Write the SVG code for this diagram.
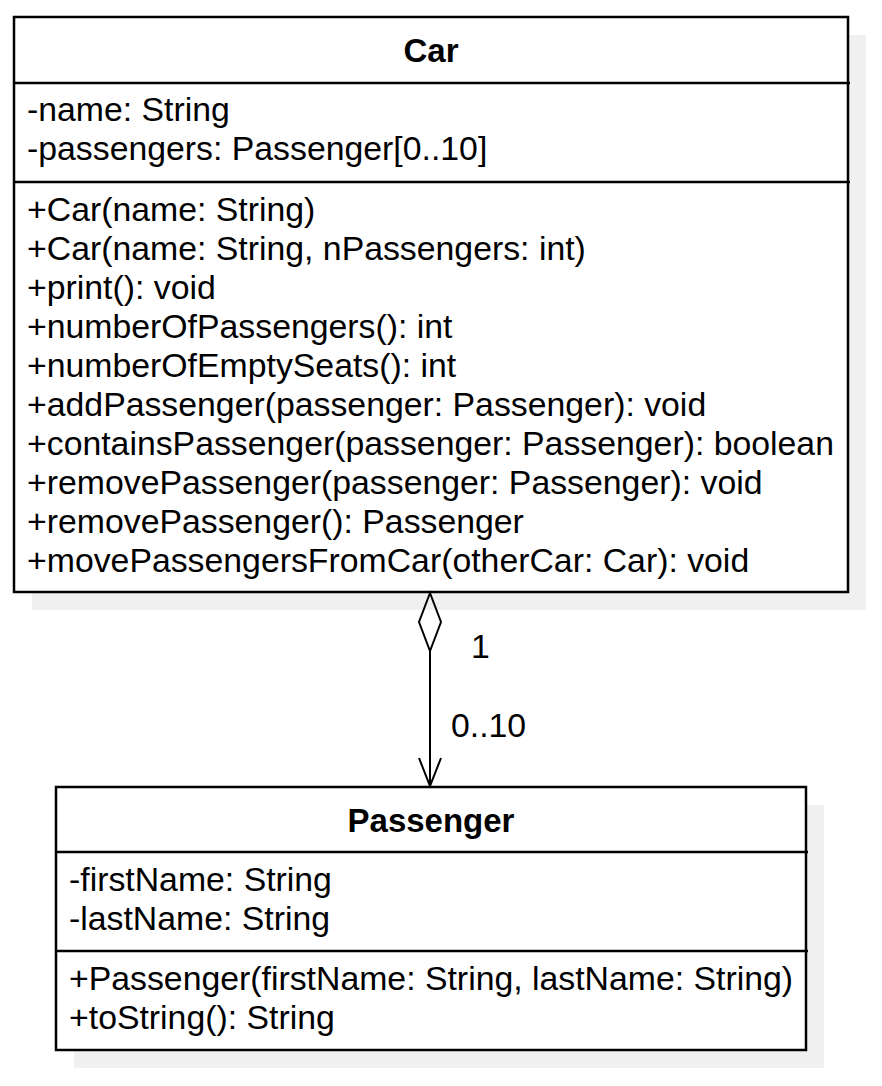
<svg xmlns="http://www.w3.org/2000/svg" width="882" height="1086" viewBox="0 0 882 1086">
<style>
.shadow{fill:#f0f0f0;stroke:none}
.box{fill:#ffffff;stroke:#000000;stroke-width:2.5}
.sep{stroke:#000000;stroke-width:2.5;fill:none}
text{font-family:"Liberation Sans",Arial,sans-serif;font-size:33.8px;fill:#000000}
.title{font-weight:bold;text-anchor:middle;font-size:33px}
.conn{stroke:#000000;stroke-width:2;fill:none}
</style>
<rect x="0" y="0" width="882" height="1086" fill="#ffffff"/>
<g id="car">
<rect class="shadow" x="32" y="35" width="834" height="575"/>
<rect class="box" x="14" y="17" width="834" height="575"/>
<line class="sep" x1="14" y1="83" x2="850" y2="83"/>
<line class="sep" x1="14" y1="182" x2="850" y2="182"/>
<text class="title" x="431" y="62">Car</text>
<text x="27" y="121">-name: String</text>
<text x="27" y="160">-passengers: Passenger[0..10]</text>
<text x="27" y="221">+Car(name: String)</text>
<text x="27" y="260">+Car(name: String, nPassengers: int)</text>
<text x="27" y="299">+print(): void</text>
<text x="27" y="338">+numberOfPassengers(): int</text>
<text x="27" y="377">+numberOfEmptySeats(): int</text>
<text x="27" y="416">+addPassenger(passenger: Passenger): void</text>
<text x="27" y="455">+containsPassenger(passenger: Passenger): boolean</text>
<text x="27" y="494">+removePassenger(passenger: Passenger): void</text>
<text x="27" y="533">+removePassenger(): Passenger</text>
<text x="27" y="572">+movePassengersFromCar(otherCar: Car): void</text>
</g>
<g id="passenger">
<rect class="shadow" x="74" y="805" width="750" height="263"/>
<rect class="box" x="56" y="787" width="750" height="263"/>
<line class="sep" x1="56" y1="852" x2="808" y2="852"/>
<line class="sep" x1="56" y1="951" x2="808" y2="951"/>
<text class="title" x="431" y="832">Passenger</text>
<text x="69" y="891">-firstName: String</text>
<text x="69" y="930">-lastName: String</text>
<text x="69" y="990">+Passenger(firstName: String, lastName: String)</text>
<text x="69" y="1029">+toString(): String</text>
</g>
<g id="connectors">
<path class="conn" d="M430 593 L441 622 L430 651 L419 622 Z"/>
<line class="conn" x1="430" y1="651" x2="430" y2="786"/>
<path class="conn" d="M419 758 L430 786 L441 758"/>
<text x="471" y="658">1</text>
<text x="451" y="737">0..10</text>
</g>
</svg>
